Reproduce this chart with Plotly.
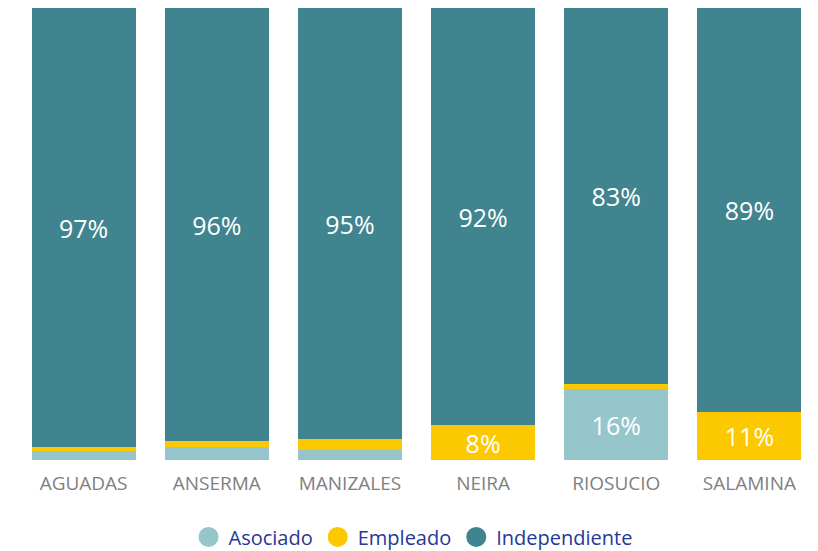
import plotly.graph_objects as go

categories = ["AGUADAS", "ANSERMA", "MANIZALES", "NEIRA", "RIOSUCIO", "SALAMINA"]
asociado = [2.0, 2.9, 2.2, 0.0, 15.7, 0.0]
empleado = [0.8, 1.3, 2.4, 7.7, 1.1, 10.6]
independiente = [97.2, 95.8, 95.4, 92.3, 83.2, 89.4]

series = [
    ("Asociado", asociado, "#96C6CC"),
    ("Empleado", empleado, "#FCC800"),
    ("Independiente", independiente, "#40848F"),
]

fig = go.Figure()
for name, vals, color in series:
    labels = [f"{round(v)}%" if v >= 5 else "" for v in vals]
    fig.add_trace(go.Bar(
        x=categories, y=vals, name=name, marker_color=color,
        marker_line_width=0,
        text=labels, textposition="inside", insidetextanchor="middle",
        textangle=0, constraintext="none",
        textfont=dict(color="white", size=25, family="Open Sans"),
        showlegend=False, hoverinfo="skip",
    ))
    fig.add_trace(go.Scatter(
        x=[None], y=[None], mode="markers", name=name,
        marker=dict(color=color, size=20, symbol="circle",
                    line=dict(color=color, width=4)),
        showlegend=True,
    ))

fig.update_layout(
    barmode="stack",
    bargap=0.22,
    width=810, height=543,
    margin=dict(l=9, r=2, t=0, b=91),
    paper_bgcolor="white", plot_bgcolor="white",
    showlegend=True,
    legend=dict(
        orientation="h", traceorder="normal",
        xref="container", yref="container",
        x=0.5, xanchor="center", y=0.026, yanchor="middle",
        font=dict(family="Open Sans", size=20, color="#26379C"),
        itemsizing="trace", itemwidth=30, tracegroupgap=0,
    ),
    xaxis=dict(
        showgrid=False, showline=False, zeroline=False,
        tickfont=dict(family="Open Sans", size=19, color="#808080"),
        ticks="", ticklabelstandoff=10,
    ),
    yaxis=dict(range=[0, 100], visible=False, showgrid=False, zeroline=False),
)

fig.write_html("out.html")
